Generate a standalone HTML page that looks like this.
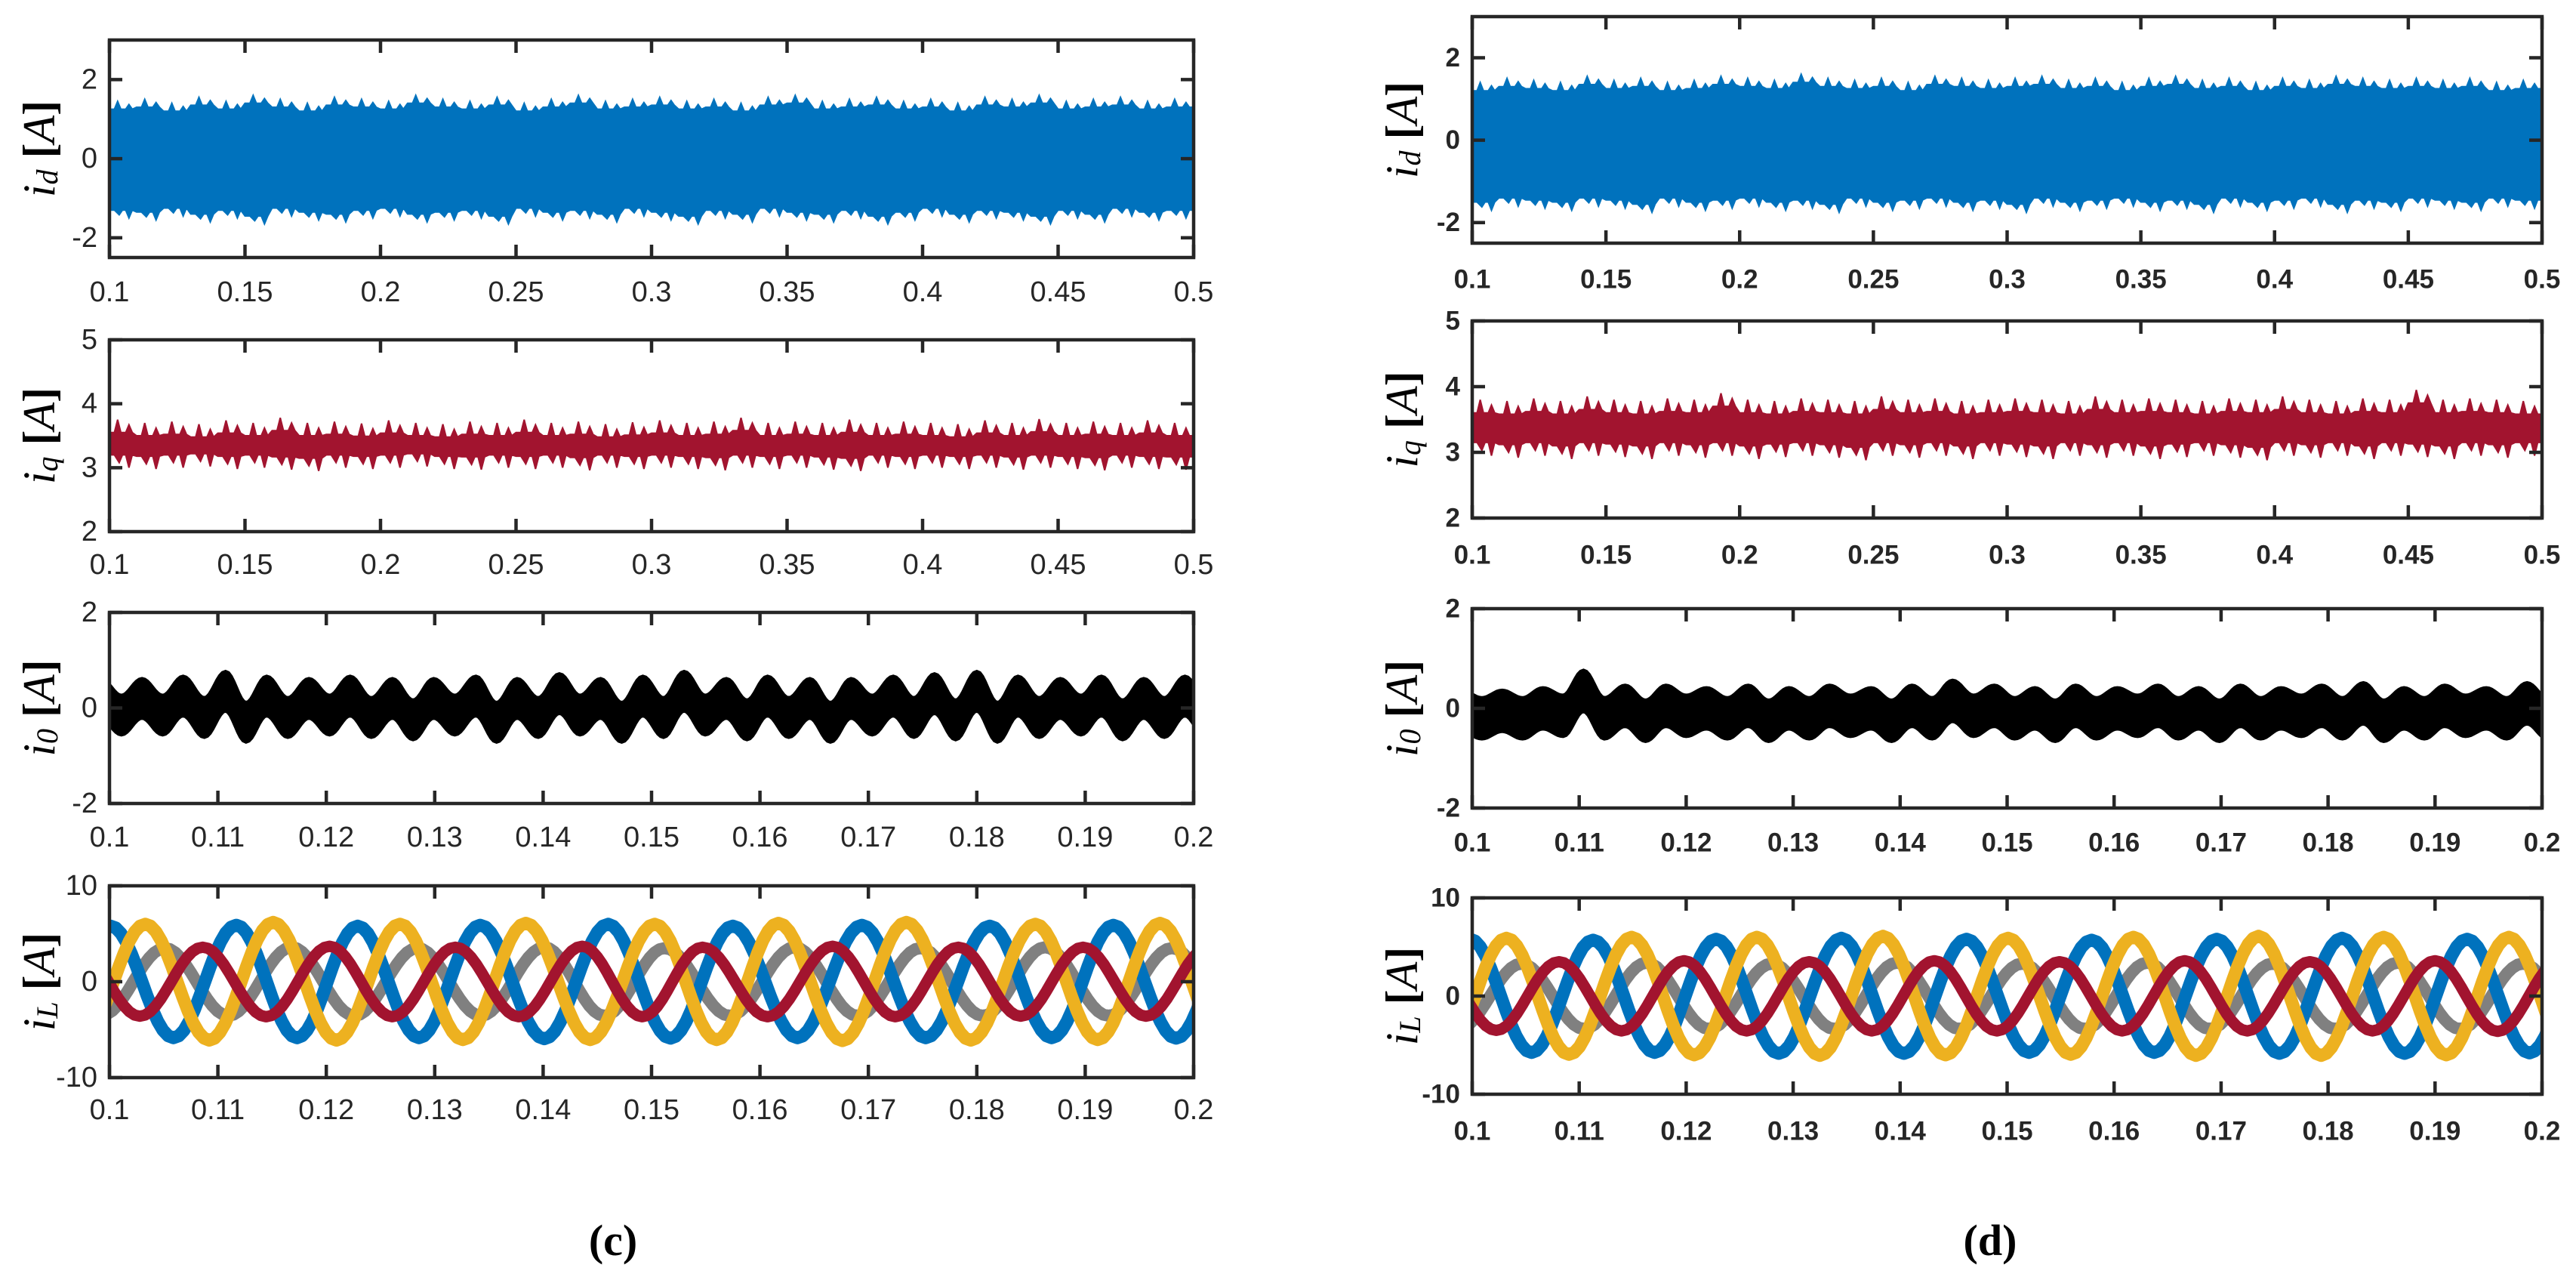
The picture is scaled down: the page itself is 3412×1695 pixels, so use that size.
<!DOCTYPE html>
<html><head><meta charset="utf-8"><style>
html,body{margin:0;padding:0;background:#fff;}
svg{display:block;}
</style></head><body>
<svg id="fig" xmlns="http://www.w3.org/2000/svg" width="3412" height="1695" viewBox="0 0 3412 1695">
<rect x="0" y="0" width="3412" height="1695" fill="#fff"/>
<text x="812" y="1662" text-anchor="middle" font-family="Liberation Serif, serif" font-weight="bold" font-size="58" fill="#000">(c)</text>
<text x="2636" y="1662" text-anchor="middle" font-family="Liberation Serif, serif" font-weight="bold" font-size="58" fill="#000">(d)</text>
</svg>
<script>
// ---- data ----
const xTicksLong = [0.1,0.15,0.2,0.25,0.3,0.35,0.4,0.45,0.5];
const xTickLabelsLong = ['0.1','0.15','0.2','0.25','0.3','0.35','0.4','0.45','0.5'];
const xTicksShort = [0.1,0.11,0.12,0.13,0.14,0.15,0.16,0.17,0.18,0.19,0.2];
const xTickLabelsShort = ['0.1','0.11','0.12','0.13','0.14','0.15','0.16','0.17','0.18','0.19','0.2'];
const yTicksId = [-2,0,2];
const yTicksIq = [2,3,4,5];
const yTicksI0 = [-2,0,2];
const yTicksIL = [-10,0,10];

const idUpperC = [1.45,1.5,1.4,1.55,1.45,1.6,1.5,1.4,1.55,1.5,1.45,1.6,1.5,1.45,1.55,1.4,1.5,1.6,1.45,1.5,1.55,1.45,1.5,1.4,1.55,1.6,1.45,1.5,1.55,1.45,1.5,1.4,1.55,1.5,1.6,1.45,1.5,1.55,1.45,1.5];
const idLowerC = [-1.5,-1.55,-1.45,-1.6,-1.5,-1.65,-1.45,-1.55,-1.6,-1.5,-1.45,-1.6,-1.55,-1.5,-1.65,-1.45,-1.55,-1.5,-1.6,-1.45,-1.55,-1.65,-1.5,-1.6,-1.45,-1.55,-1.6,-1.5,-1.65,-1.55,-1.45,-1.6,-1.5,-1.55,-1.65,-1.5,-1.6,-1.45,-1.55,-1.5];
const iqUpperC = [3.75,3.7,3.72,3.68,3.74,3.7,3.78,3.7,3.72,3.69,3.74,3.7,3.68,3.72,3.7,3.75,3.7,3.72,3.68,3.71,3.74,3.7,3.72,3.78,3.7,3.72,3.7,3.75,3.7,3.72,3.7,3.68,3.74,3.7,3.76,3.7,3.72,3.7,3.74,3.7];
const iqLowerC = [3.0,2.98,3.0,3.02,2.98,3.0,2.97,2.95,3.0,2.98,3.0,3.02,2.98,2.97,3.0,2.98,3.0,2.96,3.0,2.98,3.0,2.98,2.96,3.0,2.98,3.0,2.97,2.95,3.0,2.98,3.0,2.98,3.0,2.97,3.0,2.98,2.96,3.0,2.98,2.97];
const idUpperD = [1.4,1.5,1.45,1.4,1.55,1.45,1.5,1.4,1.45,1.55,1.5,1.45,1.6,1.5,1.45,1.5,1.4,1.55,1.5,1.45,1.5,1.55,1.45,1.5,1.4,1.5,1.55,1.45,1.5,1.4,1.5,1.45,1.55,1.5,1.45,1.5,1.45,1.5,1.4,1.45];
const idLowerD = [-1.7,-1.6,-1.65,-1.7,-1.6,-1.65,-1.75,-1.6,-1.7,-1.65,-1.6,-1.7,-1.65,-1.75,-1.6,-1.7,-1.65,-1.6,-1.7,-1.65,-1.75,-1.6,-1.7,-1.65,-1.6,-1.7,-1.65,-1.75,-1.6,-1.7,-1.65,-1.6,-1.75,-1.65,-1.7,-1.6,-1.65,-1.7,-1.6,-1.65];
const iqUpperD = [3.8,3.78,3.82,3.78,3.85,3.8,3.78,3.82,3.8,3.9,3.8,3.78,3.82,3.8,3.78,3.85,3.8,3.82,3.78,3.8,3.82,3.8,3.78,3.85,3.8,3.82,3.8,3.78,3.82,3.8,3.85,3.8,3.78,3.82,3.8,3.95,3.8,3.82,3.8,3.78];
const iqLowerD = [2.95,2.92,2.95,2.9,2.95,2.93,2.9,2.95,2.92,2.95,2.9,2.93,2.95,2.92,2.88,2.95,2.92,2.95,2.9,2.95,2.93,2.9,2.95,2.92,2.95,2.9,2.93,2.95,2.92,2.88,2.95,2.92,2.95,2.9,2.95,2.93,2.9,2.95,2.92,2.95];

const i0PeakTimesC = [0.1030,0.1068,0.1107,0.1145,0.1184,0.1222,0.1261,0.1299,0.1338,0.1376,0.1415,0.1453,0.1492,0.1530,0.1569,0.1607,0.1646,0.1684,0.1723,0.1761,0.1800,0.1838,0.1877,0.1915,0.1954,0.1992];
const i0HiC = [0.6,0.65,0.75,0.65,0.6,0.65,0.6,0.6,0.65,0.6,0.7,0.6,0.65,0.75,0.6,0.65,0.6,0.6,0.65,0.7,0.75,0.65,0.6,0.65,0.6,0.65];
const i0LoC = [-0.55,-0.6,-0.7,-0.6,-0.55,-0.6,-0.65,-0.55,-0.7,-0.6,-0.55,-0.7,-0.6,-0.55,-0.65,-0.6,-0.7,-0.55,-0.6,-0.65,-0.7,-0.6,-0.55,-0.65,-0.6,-0.6];
const i0PeakTimesD = [0.1028,0.1066,0.1104,0.1143,0.1181,0.1219,0.1258,0.1296,0.1334,0.1373,0.1411,0.1449,0.1488,0.1526,0.1564,0.1603,0.1641,0.1679,0.1718,0.1756,0.1794,0.1833,0.1871,0.1909,0.1948,0.1986];
const i0HiD = [0.35,0.4,0.75,0.45,0.45,0.4,0.45,0.4,0.45,0.4,0.45,0.55,0.45,0.4,0.45,0.4,0.45,0.4,0.45,0.4,0.45,0.5,0.4,0.45,0.4,0.5];
const i0LoD = [-0.6,-0.55,-0.6,-0.65,-0.55,-0.6,-0.65,-0.6,-0.55,-0.65,-0.6,-0.55,-0.6,-0.65,-0.6,-0.55,-0.6,-0.65,-0.6,-0.55,-0.6,-0.65,-0.6,-0.55,-0.6,-0.6];

const iLBluePeaksC = [0.1001,0.1117,0.1229,0.1342,0.1460,0.1575,0.1694,0.1812,0.1926];
const iLBlueAmpC = [5.8,5.9,5.8,5.9,6.0,5.8,5.9,5.8,5.9];
const iLYellowPeaksC = [0.1033,0.1151,0.1268,0.1384,0.1503,0.1617,0.1735,0.1854,0.1969];
const iLYellowAmpC = [6.0,6.2,6.0,6.1,6.0,6.1,6.2,6.0,6.1];
const iLGrayPeaksC = [0.1051,0.1168,0.1284,0.1401,0.1512,0.1632,0.1748,0.1863,0.1980];
const iLGrayAmpC = [3.5,3.6,3.5,3.6,3.5,3.6,3.5,3.6,3.5];
const iLRedPeaksC = [0.1086,0.1203,0.1319,0.1436,0.1547,0.1667,0.1783,0.1898];
const iLRedAmpC = [3.6,3.7,3.6,3.7,3.6,3.7,3.6,3.6];

const iLBluePeaksD = [0.0998,0.1113,0.1228,0.1345,0.1462,0.1579,0.1696,0.1813,0.1930];
const iLBlueAmpD = [5.8,5.7,5.8,5.9,5.8,5.7,5.8,5.9,5.8];
const iLYellowPeaksD = [0.1032,0.1149,0.1266,0.1384,0.1501,0.1618,0.1735,0.1852,0.1969];
const iLYellowAmpD = [5.9,6.0,6.0,6.1,5.9,6.0,6.1,6.0,6.0];
const iLGrayPeaksD = [0.1046,0.1163,0.1280,0.1397,0.1514,0.1631,0.1748,0.1865,0.1982];
const iLGrayAmpD = [3.3,3.4,3.3,3.4,3.3,3.4,3.3,3.4,3.3];
const iLRedPeaksD = [0.1081,0.1198,0.1315,0.1432,0.1549,0.1666,0.1783,0.1900];
const iLRedAmpD = [3.5,3.6,3.5,3.6,3.5,3.6,3.5,3.6];

// ---- drawing ----
const NS = 'http://www.w3.org/2000/svg';
const svg = document.getElementById('fig');
function mk(tag, attrs, parent){ const e=document.createElementNS(NS,tag); for(const k in attrs) e.setAttribute(k,attrs[k]); (parent||svg).appendChild(e); return e; }

function makeAxes(cfg){
  const g = mk('g',{});
  
  
  const sx = v => cfg.left + (v-cfg.x0)/(cfg.x1-cfg.x0)*(cfg.right-cfg.left);
  const sy = v => cfg.bottom - (v-cfg.y0)/(cfg.y1-cfg.y0)*(cfg.bottom-cfg.top);
  const clipId = 'clip-'+cfg.name;
  const cp = mk('clipPath',{id:clipId},g);
  mk('rect',{x:cfg.left,y:cfg.top,width:cfg.right-cfg.left,height:cfg.bottom-cfg.top},cp);
  const plot = mk('g',{'clip-path':'url(#'+clipId+')'},g);
  return {g,sx,sy,plot,cfg};
}
function finishAxes(ax, xt, xl, yt, ylabelSub){
  const c = ax.cfg, g = ax.g, col='#262626', tl=17;
  const fontFam = 'Liberation Sans, sans-serif';
  xt.forEach((v,i)=>{
    const x = ax.sx(v);
    const t1 = mk('line',{x1:x,y1:c.bottom,x2:x,y2:c.bottom-tl,stroke:col,'stroke-width':4.5},g);
    
    
    mk('line',{x1:x,y1:c.top,x2:x,y2:c.top+tl,stroke:col,'stroke-width':4.5},g);
    const t = mk('text',{x:x,y:c.labelY,'text-anchor':'middle','dominant-baseline':'central','font-family':fontFam,'font-size':c.bold?35:38,'font-weight':c.bold?'bold':'normal',fill:col},g);
    
    
    t.textContent = xl[i];
  });
  yt.forEach(v=>{
    const y = ax.sy(v);
    mk('line',{x1:c.left,y1:y,x2:c.left+tl,y2:y,stroke:col,'stroke-width':4.5},g);
    mk('line',{x1:c.right,y1:y,x2:c.right-tl,y2:y,stroke:col,'stroke-width':4.5},g);
    const t = mk('text',{x:c.left-16,y:y,'text-anchor':'end','dominant-baseline':'central','font-family':fontFam,'font-size':c.bold?35:38,'font-weight':c.bold?'bold':'normal',fill:col},g);
    
    
    t.textContent = String(v);
  });
  const box = mk('rect',{x:c.left,y:c.top,width:c.right-c.left,height:c.bottom-c.top,fill:'none',stroke:col,'stroke-width':4.5},g);
  
  
  const cy = (c.top+c.bottom)/2;
  const lab = mk('text',{x:c.ylabX,y:cy,transform:'rotate(-90 '+c.ylabX+' '+cy+')','text-anchor':'middle','dominant-baseline':'central','font-family':'Liberation Serif, serif','font-size':60,fill:'#000'},g);
  
  
  lab.innerHTML = '<tspan font-style="italic">i</tspan><tspan font-style="italic" font-size="40" dy="10">'+ylabelSub+'</tspan><tspan dy="-10" font-weight="bold"> [</tspan><tspan font-style="italic">A</tspan><tspan font-weight="bold">]</tspan>';
}
function drawBand(ax, up, lo, color, name){
  const n = up.length, c = ax.cfg, dt=(c.x1-c.x0)/n, drop=0.2;
  const ptsU=[], ptsL=[];
  for(let i=0;i<n;i++){
    const xa=ax.sx(c.x0+i*dt), xb=ax.sx(c.x0+(i+1)*dt), w=(xb-xa)*0.12;
    const m1=xa+(xb-xa)*0.3, m2=xa+(xb-xa)*0.72;
    ptsU.push([xa,ax.sy(up[i]-drop)],[m1-w,ax.sy(up[i]-drop)],[m1,ax.sy(up[i])],[m1+w,ax.sy(up[i]-drop)],[m2-w,ax.sy(up[i]-drop)],[m2,ax.sy(up[i]-0.08)],[m2+w,ax.sy(up[i]-drop)]);
    ptsL.push([xa,ax.sy(lo[i]+drop)],[m1-w,ax.sy(lo[i]+drop)],[m1+w*0.5,ax.sy(lo[i]+0.08)],[m1+w*1.5,ax.sy(lo[i]+drop)],[m2-w,ax.sy(lo[i]+drop)],[m2,ax.sy(lo[i])],[m2+w,ax.sy(lo[i]+drop)]);
  }
  const xe=ax.sx(c.x1);
  ptsU.push([xe,ax.sy(up[n-1]-drop)]); ptsL.push([xe,ax.sy(lo[n-1]+drop)]);
  const all = ptsU.concat(ptsL.reverse());
  const d='M'+all.map(p=>p[0].toFixed(1)+','+p[1].toFixed(1)).join(' L')+' Z';
  const p = mk('path',{d:d,fill:color,stroke:color,'stroke-width':2},ax.plot);
  
  
}
function drawI0(ax, times, hi, lo, name){
  const width = 0.8;
  const nodesU=[], nodesL=[];
  const per = times[1]-times[0];
  const ext = [times[0]-per].concat(times, [times[times.length-1]+per]);
  const hiE = [hi[0]].concat(hi,[hi[hi.length-1]]);
  const loE = [lo[0]].concat(lo,[lo[lo.length-1]]);
  for(let i=0;i<ext.length;i++){
    nodesU.push([ext[i], hiE[i]]); nodesL.push([ext[i], hiE[i]-width]);
    if(i<ext.length-1){ const tm=(ext[i]+ext[i+1])/2; nodesU.push([tm, loE[i]+width]); nodesL.push([tm, loE[i]]); }
  }
  function path(nodes){ let pts=[]; for(let i=0;i<nodes.length-1;i++){ const [ta,va]=nodes[i],[tb,vb]=nodes[i+1];
      for(let k=0;k<8;k++){ const f=k/8, w=(1-Math.cos(Math.PI*f))/2; pts.push([ax.sx(ta+(tb-ta)*f), ax.sy(va+(vb-va)*w)]); } }
    pts.push([ax.sx(nodes[nodes.length-1][0]), ax.sy(nodes[nodes.length-1][1])]); return pts; }
  const pu = path(nodesU), pl = path(nodesL).reverse();
  const d = 'M'+pu.concat(pl).map(p=>p[0].toFixed(1)+','+p[1].toFixed(1)).join(' L')+' Z';
  const p = mk('path',{d:d,fill:'#000',stroke:'#000','stroke-width':6,'stroke-linejoin':'miter'},ax.plot);
  
  
}
function drawSine(ax, peaks, amps, color, sw, name){
  const per = (peaks[peaks.length-1]-peaks[0])/(peaks.length-1);
  const P = [peaks[0]-per].concat(peaks,[peaks[peaks.length-1]+per]);
  const A = [amps[0]].concat(amps,[amps[amps.length-1]]);
  const pts=[];
  for(let i=0;i<P.length-1;i++){
    for(let k=0;k<24;k++){ const f=k/24, t=P[i]+(P[i+1]-P[i])*f, a=A[i]+(A[i+1]-A[i])*f;
      pts.push([ax.sx(t), ax.sy(a*Math.cos(2*Math.PI*f))]); }
  }
  const d='M'+pts.map(p=>p[0].toFixed(1)+','+p[1].toFixed(1)).join(' L');
  const p = mk('path',{d:d,fill:'none',stroke:color,'stroke-width':sw,'stroke-linejoin':'round'},ax.plot);
  
  
}

const panels = [
  {p:'c', left:145, right:1581, ylabX:52, bold:false,
   rows:[{top:53,bottom:341,labelY:387},{top:450,bottom:704,labelY:748},{top:811,bottom:1064,labelY:1109},{top:1173,bottom:1427,labelY:1470}]},
  {p:'d', left:1950, right:3367, ylabX:1857, bold:true,
   rows:[{top:22,bottom:322,labelY:370},{top:425,bottom:686,labelY:735},{top:806,bottom:1070,labelY:1116},{top:1189,bottom:1449,labelY:1498}]}
];
panels.forEach(P=>{
  const C = P.p==='c';
  const base = r => ({left:P.left,right:P.right,top:r.top,bottom:r.bottom,labelY:r.labelY,ylabX:P.ylabX,bold:P.bold});
  let a = makeAxes(Object.assign(base(P.rows[0]),{name:'id-axes-'+P.p,x0:0.1,x1:0.5,y0:-2.5,y1:3}));
  drawBand(a, C?idUpperC:idUpperD, C?idLowerC:idLowerD, '#0072BD', 'id-series-'+P.p);
  finishAxes(a, xTicksLong, xTickLabelsLong, yTicksId, 'd');
  a = makeAxes(Object.assign(base(P.rows[1]),{name:'iq-axes-'+P.p,x0:0.1,x1:0.5,y0:2,y1:5}));
  drawBand(a, C?iqUpperC:iqUpperD, C?iqLowerC:iqLowerD, '#A2142F', 'iq-series-'+P.p);
  finishAxes(a, xTicksLong, xTickLabelsLong, yTicksIq, 'q');
  a = makeAxes(Object.assign(base(P.rows[2]),{name:'i0-axes-'+P.p,x0:0.1,x1:0.2,y0:-2,y1:2}));
  drawI0(a, C?i0PeakTimesC:i0PeakTimesD, C?i0HiC:i0HiD, C?i0LoC:i0LoD, 'i0-series-'+P.p);
  finishAxes(a, xTicksShort, xTickLabelsShort, yTicksI0, '0');
  a = makeAxes(Object.assign(base(P.rows[3]),{name:'iL-axes-'+P.p,x0:0.1,x1:0.2,y0:-10,y1:10}));
  drawSine(a, C?iLGrayPeaksC:iLGrayPeaksD, C?iLGrayAmpC:iLGrayAmpD, '#808080', 16, 'iL-gray-'+P.p);
  drawSine(a, C?iLBluePeaksC:iLBluePeaksD, C?iLBlueAmpC:iLBlueAmpD, '#0072BD', 17, 'iL-blue-'+P.p);
  drawSine(a, C?iLYellowPeaksC:iLYellowPeaksD, C?iLYellowAmpC:iLYellowAmpD, '#EDB120', 17, 'iL-yellow-'+P.p);
  drawSine(a, C?iLRedPeaksC:iLRedPeaksD, C?iLRedAmpC:iLRedAmpD, '#A2142F', 15, 'iL-red-'+P.p);
  finishAxes(a, xTicksShort, xTickLabelsShort, yTicksIL, 'L');
});
</script>
</body></html>
